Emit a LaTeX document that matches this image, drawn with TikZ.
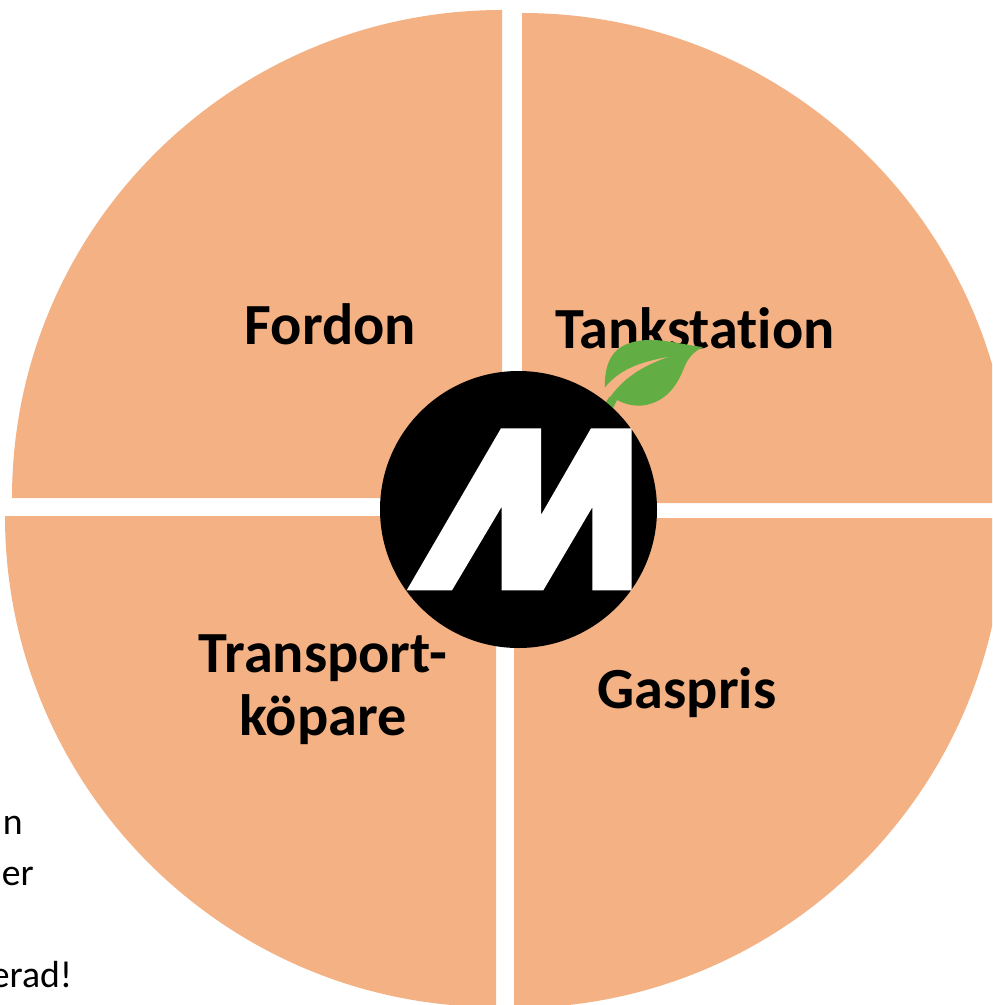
\documentclass[tikz,border=0pt]{standalone}
\usepackage{fontspec}
\setmainfont[Ligatures=NoCommon]{Carlito}
\definecolor{wedge}{HTML}{F4B183}
\definecolor{leaf}{HTML}{62AE44}
\tikzset{
  x=0.75pt,y=-0.75pt,
  wedgefill/.style={fill=wedge,draw=none},
  lab/.style={font=\fontsize{43.7}{47.5}\selectfont\bfseries,text=black,inner sep=0pt,align=center},
  cut/.style={font=\fontsize{28.3}{34}\selectfont,text=black,inner sep=0pt,anchor=base east},
}
\begin{document}
\begin{tikzpicture}
\useasboundingbox (0,0) rectangle (992,1005);
\clip (0,0) rectangle (992,1005);
\fill[white] (0,0) rectangle (992,1005);
% partly covered text at the left edge
\node[cut] (t1) at (23,834) {n};
\node[cut] (t2) at (34,885) {er};
\node[cut] (t3) at (72.5,987) {erad!};
% quarters
\fill[wedgefill] (502,498) -- (502,10) arc[start angle=90,end angle=180,x radius=490,y radius=-488] -- cycle;
\fill[wedgefill] (522,503) -- (522,13) arc[start angle=90,end angle=0,x radius=490,y radius=-490] -- cycle;
\fill[wedgefill] (496,516) -- (5,516) arc[start angle=180,end angle=270,x radius=491,y radius=-491] -- cycle;
\fill[wedgefill] (514,518) -- (1004,518) arc[start angle=0,end angle=-90,x radius=490,y radius=-490] -- cycle;
% labels
\node[lab] (fordon) at (330.5,324) {Fordon};
\node[lab] (tank) at (695,328) {Tankstation};
\node[lab] (gas) at (687,693) {Gaspris};
\node[lab] (tran) at (323,690) {Transport-\\köpare};
% leaf
\fill[leaf] (605,390) .. controls (604,372) and (608,358) .. (617,350)
  .. controls (630,339) and (650,339) .. (665,341) .. controls (680,343) and (692,346) .. (703,347)
  .. controls (693,352) and (688,358) .. (684,368) .. controls (676,388) and (666,399) .. (650,404)
  .. controls (640,407) and (628,406) .. (617,400) -- (612,410) -- (606,402) -- (610,396) -- cycle;
% vein
\fill[wedge] (604,389) .. controls (618,370) and (640,362) .. (668,357)
  .. controls (645,365) and (625,376) .. (610,397) -- cycle;
% logo
\node[circle,fill=black,minimum size=277*0.75pt,inner sep=0pt] (logo) at (518.5,509.5) {};
\fill[white] (501,428.3) -- (541,428.3) -- (541,515) -- (591,428.3) -- (631.7,428.3) -- (631.7,590.3)
  -- (592.3,590.3) -- (592.3,507.3) -- (543.3,590.3) -- (501.7,590.3) -- (501.7,506.7) -- (452,590.3) -- (406.7,590.3) -- cycle;
\end{tikzpicture}
\end{document}
